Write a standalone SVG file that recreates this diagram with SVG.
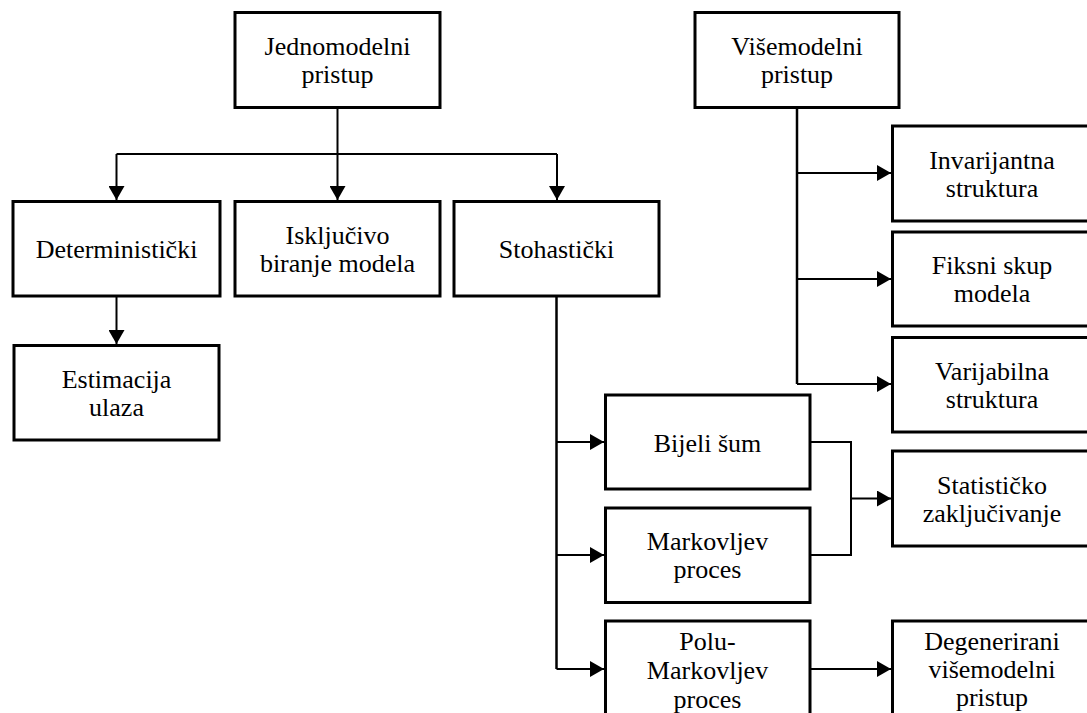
<svg xmlns="http://www.w3.org/2000/svg" width="1087" height="713" viewBox="0 0 1087 713">
<style>
.box{fill:#fff;stroke:#000;stroke-width:3}
text{font-family:'Liberation Serif','Times New Roman','DejaVu Serif',serif;font-size:26px;text-anchor:middle;fill:#000}
.c{fill:none;stroke:#000;stroke-width:2}
.a{marker-end:url(#arr)}
</style>
<defs>
<marker id="arr" markerUnits="userSpaceOnUse" markerWidth="14" markerHeight="16" refX="14" refY="8" orient="auto" viewBox="0 0 14 16">
<path d="M0,0 L14,8 L0,16 Z" fill="#000"/>
</marker>
</defs>
<rect width="1087" height="713" fill="#fff"/>
<g id="connectors">
<path class="c" d="M337.5,108 V154"/>
<path class="c" d="M116.5,154 H557"/>
<path class="c a" d="M116.5,154 V200"/>
<path class="c a" d="M337.5,154 V200"/>
<path class="c a" d="M557,154 V200"/>
<path class="c a" d="M116.5,296 V344"/>
<path class="c" style="stroke-width:2.5" d="M797,108 V384"/>
<path class="c a" d="M797,173 H891"/>
<path class="c a" d="M797,279 H891"/>
<path class="c a" d="M797,384 H891"/>
<path class="c" style="stroke-width:2.5" d="M556.5,296 V669"/>
<path class="c a" d="M556.5,442 H604"/>
<path class="c a" d="M556.5,555 H604"/>
<path class="c a" d="M556.5,669 H604"/>
<path class="c" d="M810,442 H851 V555 H810"/>
<path class="c a" d="M851,498.5 H891"/>
<path class="c a" d="M810,669 H891"/>
</g>
<g font-family="Liberation Serif, serif">
<g id="n-jednomodelni"><rect class="box" x="235" y="12.5" width="205" height="95"/><text x="337.5" y="55">Jednomodelni</text><text x="337.5" y="83">pristup</text></g>
<g id="n-visemodelni"><rect class="box" x="695" y="12.5" width="204" height="95"/><text x="797" y="55">Višemodelni</text><text x="797" y="83">pristup</text></g>
<g id="n-deterministicki"><rect class="box" x="13" y="201.5" width="207" height="94.5"/><text x="116.5" y="258">Deterministički</text></g>
<g id="n-iskljucivo"><rect class="box" x="235" y="201.5" width="205" height="94.5"/><text x="337.5" y="243.5">Isključivo</text><text x="337.5" y="271.5">biranje modela</text></g>
<g id="n-stohasticki"><rect class="box" x="454" y="201.5" width="205" height="94.5"/><text x="556.5" y="258">Stohastički</text></g>
<g id="n-estimacija"><rect class="box" x="14" y="345.5" width="205" height="94.5"/><text x="116.5" y="387.5">Estimacija</text><text x="116.5" y="415.5">ulaza</text></g>
<g id="n-invarijantna"><rect class="box" x="892.5" y="126" width="200" height="95"/><text x="992" y="168.5">Invarijantna</text><text x="992" y="196.5">struktura</text></g>
<g id="n-fiksni"><rect class="box" x="892.5" y="232" width="200" height="94"/><text x="992" y="274">Fiksni skup</text><text x="992" y="302">modela</text></g>
<g id="n-varijabilna"><rect class="box" x="892.5" y="337.5" width="200" height="94.5"/><text x="992" y="379.7">Varijabilna</text><text x="992" y="407.7">struktura</text></g>
<g id="n-bijeli"><rect class="box" x="605.5" y="395" width="204.5" height="94"/><text x="707.5" y="451.7">Bijeli šum</text></g>
<g id="n-markovljev"><rect class="box" x="605.5" y="508" width="204.5" height="94.5"/><text x="707.5" y="550">Markovljev</text><text x="707.5" y="578">proces</text></g>
<g id="n-polu"><rect class="box" x="605.5" y="621" width="204.5" height="95"/><text x="707.5" y="649.5">Polu-</text><text x="707.5" y="678.5">Markovljev</text><text x="707.5" y="707.5">proces</text></g>
<g id="n-statisticko"><rect class="box" x="892.5" y="451" width="200" height="95"/><text x="992" y="493.5">Statističko</text><text x="992" y="521.5">zaključivanje</text></g>
<g id="n-degenerirani"><rect class="box" x="892.5" y="621" width="200" height="95"/><text x="992" y="650">Degenerirani</text><text x="992" y="678">višemodelni</text><text x="992" y="706">pristup</text></g>
</g>
</svg>
